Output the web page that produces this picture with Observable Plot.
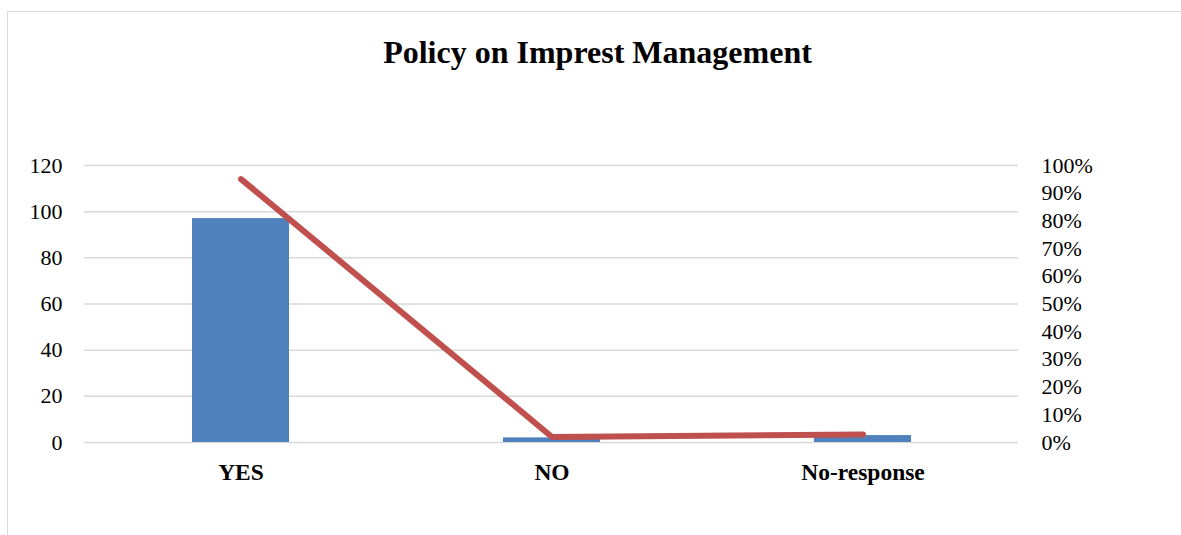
<!DOCTYPE html>
<html><head><meta charset="utf-8">
<script src="https://cdn.jsdelivr.net/npm/d3@7"></script>
<script src="https://cdn.jsdelivr.net/npm/@observablehq/plot@0.6"></script>
<style>
body{margin:0;background:#fff;overflow:hidden;}
#wrap{position:relative;width:1181px;height:535px;}
#frame{position:absolute;left:7px;top:11px;width:1200px;height:600px;border:1.5px solid #d9d9d9;box-sizing:border-box;}
#title{position:absolute;left:7px;top:36px;width:1181px;text-align:center;font:bold 32px "Liberation Serif",serif;line-height:32px;color:#000;}
#chart{position:absolute;left:0;top:0;}
</style></head>
<body>
<div id="wrap">
  <div id="frame"></div>
  <div id="title">Policy on Imprest Management</div>
  <div id="chart"></div>
</div>
<script>
const categories = ["YES", "NO", "No-response"];
const counts = [97, 2, 3];
const percents = [95.1, 2.0, 2.9];
const leftTicks = [0, 20, 40, 60, 80, 100, 120];
const rightTicks = [0, 10, 20, 30, 40, 50, 60, 70, 80, 90, 100];

const rows = categories.map((c, i) => ({cat: c, count: counts[i], pct: percents[i]}));
const k = 120 / 100; // right axis (0-100%) shares the 0-120 frame

const chart = Plot.plot({
  width: 1181,
  height: 535,
  marginLeft: 84,
  marginRight: 163,
  marginTop: 165,
  marginBottom: 93,
  style: {fontFamily: "'Liberation Serif', serif", fontSize: "22px", color: "#000", background: "transparent"},
  x: {domain: categories, type: "band", padding: 0, label: null},
  y: {domain: [0, 120], label: null},
  marks: [
    Plot.gridY(leftTicks, {stroke: "#d9d9d9", strokeOpacity: 1, strokeWidth: 1.5}),
    Plot.barY(rows, {x: "cat", y: "count", fill: "#4F81BD", insetLeft: 107, insetRight: 107}),
    Plot.line(rows, {x: "cat", y: d => d.pct * k, stroke: "#C0504D", strokeWidth: 6, strokeLinecap: "round", strokeLinejoin: "round"}),
    Plot.axisY({ticks: leftTicks, tickSize: 0, tickPadding: 22, label: null, fontSize: 22}),
    Plot.axisY({anchor: "right", ticks: rightTicks.map(t => t * k), tickFormat: d => Math.round(d / k) + "%", tickSize: 0, tickPadding: 23, label: null, fontSize: 22}),
    Plot.axisX({tickSize: 0, tickPadding: 21, label: null, fontSize: 23.5, fontWeight: "bold"})
  ]
});
document.getElementById("chart").appendChild(chart);
</script>
</body></html>
